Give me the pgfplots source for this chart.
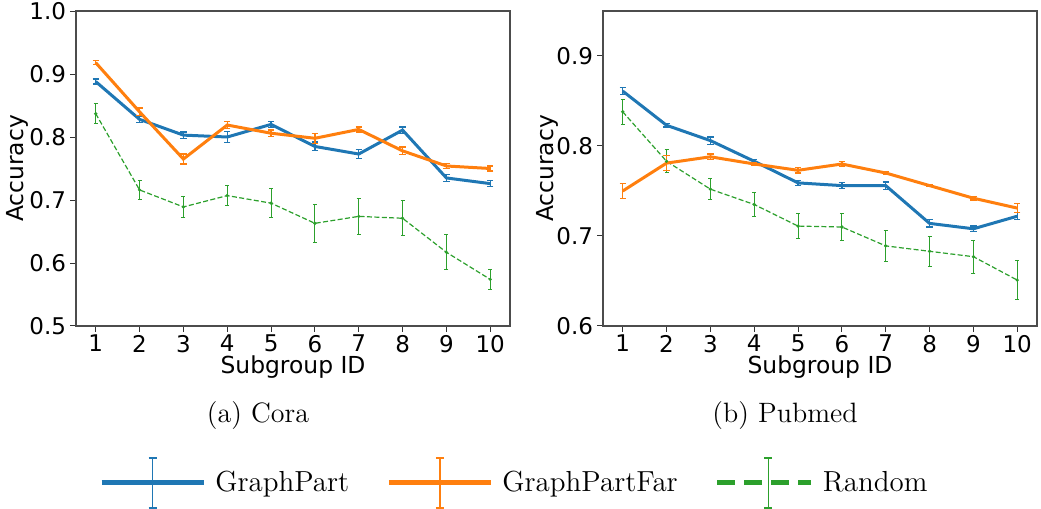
\documentclass[border=0pt]{standalone}
\usepackage{pgfplots}
\usepackage{pgfplotstable}
\pgfplotsset{compat=1.18}
\usepackage{fontspec}
\newfontfamily\dv{DejaVu Sans}
\definecolor{c0}{HTML}{1F77B4}
\definecolor{c1}{HTML}{FF7F0E}
\definecolor{c2}{HTML}{2CA02C}

\pgfplotstableread{
x y e
1 0.888 0.004
2 0.828 0.005
3 0.803 0.005
4 0.800 0.009
5 0.820 0.005
6 0.785 0.007
7 0.773 0.007
8 0.811 0.005
9 0.735 0.006
10 0.726 0.005
}\coraGP
\pgfplotstableread{
x y e
1 0.918 0.003
2 0.840 0.006
3 0.765 0.008
4 0.819 0.006
5 0.806 0.005
6 0.798 0.008
7 0.812 0.004
8 0.778 0.006
9 0.754 0.004
10 0.750 0.004
}\coraGPF
\pgfplotstableread{
x y e
1 0.837 0.016
2 0.716 0.015
3 0.689 0.017
4 0.707 0.016
5 0.695 0.023
6 0.663 0.030
7 0.674 0.028
8 0.671 0.028
9 0.617 0.028
10 0.574 0.016
}\coraR
\pgfplotstableread{
x y e
1 0.861 0.004
2 0.823 0.002
3 0.806 0.004
4 0.783 0.002
5 0.759 0.003
6 0.756 0.003
7 0.756 0.004
8 0.714 0.004
9 0.708 0.003
10 0.722 0.004
}\pubGP
\pgfplotstableread{
x y e
1 0.750 0.008
2 0.781 0.008
3 0.788 0.003
4 0.780 0.002
5 0.773 0.003
6 0.780 0.003
7 0.770 0.002
8 0.756 0.001
9 0.742 0.002
10 0.731 0.005
}\pubGPF
\pgfplotstableread{
x y e
1 0.838 0.014
2 0.783 0.013
3 0.752 0.012
4 0.735 0.013
5 0.711 0.0135
6 0.710 0.015
7 0.689 0.0175
8 0.683 0.0167
9 0.677 0.0185
10 0.651 0.022
}\pubR

\pgfplotsset{
  myax/.style={
    scale only axis,
    anchor=south west,
    width=217pt, height=157.5pt,
    xmin=0.55, xmax=10.45,
    xtick={1,2,3,4,5,6,7,8,9,10},
    tick align=outside,
    xtick pos=bottom, ytick pos=left,
    major tick length=2.8pt,
    tick style={black!80, line width=0.5pt},
    axis line style={black!70, line width=0.7pt},
    /pgf/number format/assume math mode=true,
    ticklabel style={font=\dv\fontsize{11.5}{13}\selectfont},
    xticklabel style={inner sep=1.5pt},
    yticklabel style={inner sep=2pt, /pgf/number format/fixed, /pgf/number format/precision=1, /pgf/number format/fixed zerofill},
    xlabel={Subgroup ID},
    ylabel={Accuracy},
    every axis x label/.style={at={(axis description cs:0.5,-0.151)}, anchor=base, inner sep=0pt, font=\dv\fontsize{11.7}{13}\selectfont},
    error bars/error bar style={line width=0.6pt},
    error bars/error mark options={line width=0.6pt, mark size=1.6pt, rotate=90},
  },
  gp/.style={color=c0, line width=1.5pt, mark=none, forget plot,
    error bars/.cd, y dir=both, y explicit},
  gpf/.style={color=c1, line width=1.5pt, mark=none, forget plot,
    error bars/.cd, y dir=both, y explicit},
  rnd/.style={color=c2, line width=0.6pt, dash pattern=on 2.5pt off 1.2pt, mark=*, mark size=0.5pt, mark options={solid}, forget plot,
    error bars/.cd, y dir=both, y explicit, error bar style={line width=0.5pt, solid}, error mark options={line width=0.5pt, mark size=1pt, rotate=90, solid}},
}

\begin{document}
\begin{tikzpicture}
\useasboundingbox (0,0) rectangle (520.5pt,254.5pt);
\begin{axis}[myax, at={(38pt,91.5pt)},
  ymin=0.5, ymax=1.0, ytick={0.5,0.6,0.7,0.8,0.9,1.0},
  every axis y label/.style={at={(axis description cs:-0.135,0.5)}, rotate=90, anchor=center, font=\dv\fontsize{11.7}{13}\selectfont},
  legend columns=3,
  legend style={at={(axis description cs:1.018,-0.498)}, anchor=center, draw=none, fill=none,
    font=\fontsize{14.5}{16}\selectfont,
    /tikz/every even column/.append style={column sep=14pt},
    nodes={inner sep=4.5pt}},
]
\addlegendimage{legend image code/.code={
  \draw[c0, line width=2.6pt] (0pt,0pt) -- (51pt,0pt);
  \draw[c0, line width=0.7pt] (25.5pt,-12.5pt) -- (25.5pt,12.5pt);
  \draw[c0, line width=0.7pt] (23.5pt,-12.5pt) -- (27.5pt,-12.5pt);
  \draw[c0, line width=0.7pt] (23.5pt,12.5pt) -- (27.5pt,12.5pt);}}
\addlegendentry{GraphPart}
\addlegendimage{legend image code/.code={
  \draw[c1, line width=2.6pt] (0pt,0pt) -- (51pt,0pt);
  \draw[c1, line width=0.7pt] (25.5pt,-12.5pt) -- (25.5pt,12.5pt);
  \draw[c1, line width=0.7pt] (23.5pt,-12.5pt) -- (27.5pt,-12.5pt);
  \draw[c1, line width=0.7pt] (23.5pt,12.5pt) -- (27.5pt,12.5pt);}}
\addlegendentry{GraphPartFar}
\addlegendimage{legend image code/.code={
  \draw[c2, line width=2.6pt, dash pattern=on 9pt off 4.5pt] (0pt,0pt) -- (47pt,0pt);
  \draw[c2, line width=0.7pt] (25.5pt,-12.5pt) -- (25.5pt,12.5pt);
  \draw[c2, line width=0.7pt] (23.5pt,-12.5pt) -- (27.5pt,-12.5pt);
  \draw[c2, line width=0.7pt] (23.5pt,12.5pt) -- (27.5pt,12.5pt);}}
\addlegendentry{Random}
\addplot[rnd] table[x=x, y=y, y error=e] {\coraR};
\addplot[gp] table[x=x, y=y, y error=e] {\coraGP};
\addplot[gpf] table[x=x, y=y, y error=e] {\coraGPF};
\end{axis}
\begin{axis}[myax, at={(301.5pt,91.5pt)},
  ymin=0.6, ymax=0.95, ytick={0.6,0.7,0.8,0.9},
  every axis y label/.style={at={(axis description cs:-0.129,0.5)}, rotate=90, anchor=center, font=\dv\fontsize{11.7}{13}\selectfont},
]
\addplot[rnd] table[x=x, y=y, y error=e] {\pubR};
\addplot[gp] table[x=x, y=y, y error=e] {\pubGP};
\addplot[gpf] table[x=x, y=y, y error=e] {\pubGPF};
\end{axis}
\node[font=\fontsize{14}{16}\selectfont] at (129pt,46.5pt) {(a) Cora};
\node[font=\fontsize{14}{16}\selectfont] at (392.5pt,46.5pt) {(b) Pubmed};
\end{tikzpicture}
\end{document}
